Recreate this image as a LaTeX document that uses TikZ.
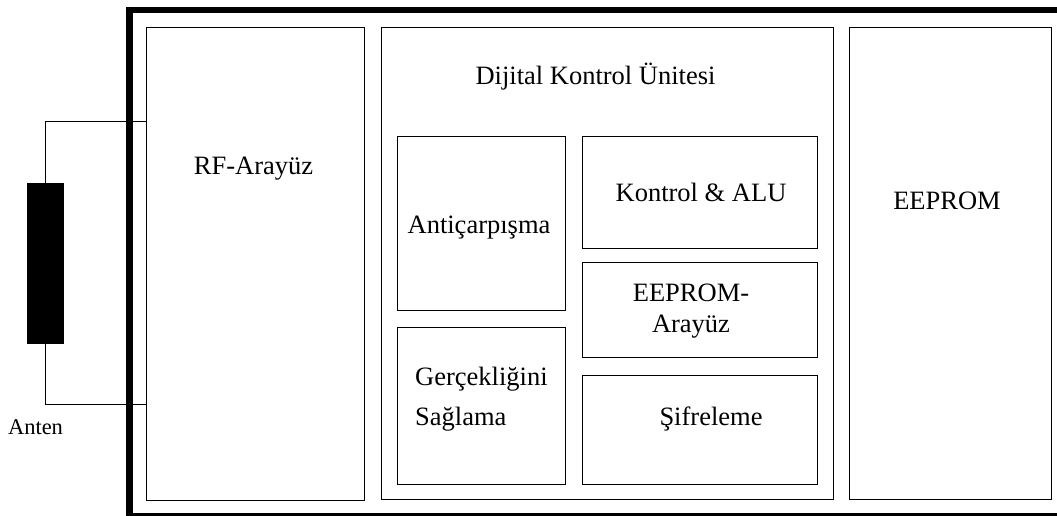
\documentclass[tikz,border=0pt]{standalone}
\usepackage{fontspec}
\setmainfont{Liberation Serif}
\tikzset{
  blk/.style={draw=black, line width=0.9pt, inner sep=0pt, anchor=north west},
  lbl/.style={inner sep=0pt, anchor=base, font=\fontsize{26.5}{31}\selectfont},
  wire/.style={draw=black, line width=0.9pt},
}
\newcommand{\blkat}[5]{% name, x0, y0, x1, y1 (y downwards)
  \node[blk, minimum width={#4pt-#2pt}, minimum height={#5pt-#3pt}] (#1) at (#2,#3) {};}
\begin{document}
\begin{tikzpicture}[x=1pt,y=-1pt]
\useasboundingbox (0,0) rectangle (1057,516);
% thick outer frame of the tag chip (runs off the right and bottom edges)
\begin{scope}
  \clip (0,0) rectangle (1057,516);
  \draw[line width=6.6pt] (129.5,10) rectangle (1070,516);
\end{scope}
% main blocks
\blkat{rf}{146}{27.5}{364}{499.5}
\blkat{dku}{381}{27.5}{832.5}{498.5}
\blkat{eeprom}{849}{27.5}{1050.5}{499}
% sub-blocks of the digital control unit
\blkat{anti}{396.5}{136}{564.5}{309.5}
\blkat{gerc}{396.5}{327}{564.5}{483.5}
\blkat{alu}{582}{136}{816.5}{247.5}
\blkat{eif}{582}{262}{816.5}{356.5}
\blkat{sif}{582}{374.5}{816.5}{483.5}
% antenna
\node[fill=black, inner sep=0pt, minimum width=37.5pt, minimum height=161pt] (ant) at (45.5,263.5) {};
\coordinate (rfin1) at (146,121.5);
\coordinate (rfin2) at (146,404.5);
\draw[wire] (ant.north) |- (rfin1);
\draw[wire] (ant.south) |- (rfin2);
% labels (multi-line labels are placed by the baseline of their last line)
\node[lbl] (tRF) at (253.5,174) {RF-Arayüz};
\node[lbl] (tDKU) at (595.5,85) {Dijital Kontrol Ünitesi};
\node[lbl] (tALU) at (701,201.5) {Kontrol \& ALU};
\node[lbl] (tANT) at (479,233) {Antiçarpışma};
\node[lbl, align=center] (tEIF) at (691,332) {EEPROM-\\Arayüz};
\node[lbl, anchor=base west, align=left, font=\fontsize{26.5}{40.7}\selectfont] (tGER) at (415,425.7) {Gerçekliğini\\Sağlama};
\node[lbl] (tSIF) at (711,425.7) {Şifreleme};
\node[lbl] (tEE) at (947,209) {EEPROM};
\node[lbl, font=\fontsize{22.5}{27}\selectfont] (tAnten) at (35.5,434) {Anten};
\end{tikzpicture}
\end{document}
